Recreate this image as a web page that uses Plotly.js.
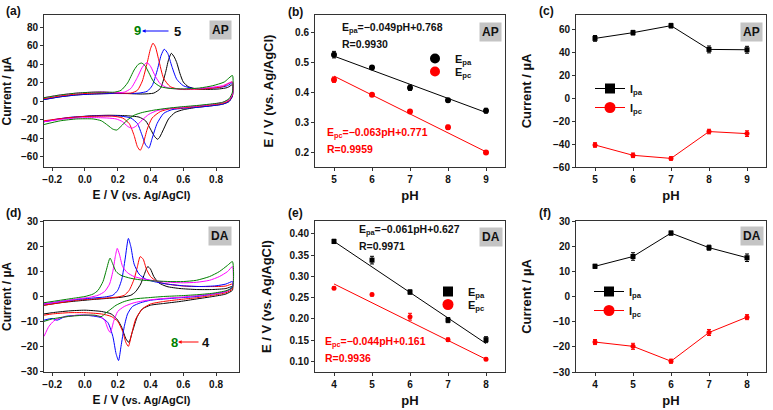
<!DOCTYPE html>
<html>
<head>
<meta charset="utf-8">
<script src="https://cdn.plot.ly/plotly-3.0.1.min.js"></script>
<style>html,body{margin:0;padding:0;background:#fff}</style>
</head>
<body>
<div id="chart" style="width:773px;height:410px"></div>
<script>
// (a) AP cyclic voltammograms, pH 5..9 (anodic sweep then cathodic sweep)
const apE5 = [-0.25,-0.15,-0.05,0.05,0.15,0.25,0.35,0.42,0.46,0.49,0.51,0.527,0.545,0.56,0.58,0.60,0.63,0.68,0.75,0.82,0.87,0.90,
  0.90,0.88,0.84,0.76,0.68,0.60,0.55,0.51,0.48,0.455,0.443,0.425,0.40,0.37,0.33,0.25,0.15,0.05,-0.05,-0.15,-0.25];
const apI5 = [2,5,7,8,8.5,8.5,8,9,14,30,45,52,48,42,30,21,16,13.5,13,13.5,15,18,
  6,0,-3,-5,-6.5,-9,-12,-19,-30,-39,-41,-38,-30,-21,-17,-15.5,-15,-15.5,-17,-19,-22];
const apE6 = [-0.25,-0.15,-0.05,0.05,0.15,0.25,0.33,0.38,0.41,0.44,0.465,0.484,0.505,0.53,0.56,0.60,0.66,0.74,0.82,0.87,0.90,
  0.90,0.88,0.84,0.76,0.68,0.60,0.53,0.48,0.44,0.41,0.39,0.37,0.345,0.32,0.28,0.22,0.12,0.02,-0.08,-0.18,-0.25];
const apI6 = [2,5,7,8,8.5,8.5,9,11,17,33,50,56.5,52,38,24,17,14,14,15,17,20,
  6,0,-3,-5,-6.5,-7.5,-9,-13,-24,-40,-50.5,-47,-35,-24,-18,-16,-15.5,-16,-17,-19.5,-22];
const apE7 = [-0.25,-0.15,-0.05,0.05,0.15,0.22,0.28,0.32,0.35,0.38,0.40,0.415,0.43,0.45,0.48,0.52,0.58,0.66,0.76,0.84,0.90,
  0.90,0.88,0.84,0.76,0.68,0.60,0.52,0.46,0.41,0.38,0.355,0.337,0.32,0.30,0.27,0.23,0.17,0.08,-0.02,-0.12,-0.25];
const apI7 = [3,6,8,9,9.5,9,9,12,22,42,57,63,59,45,25,16,13,13,14,16,21,
  7,1,-2,-4,-5.5,-7,-8,-11,-18,-30,-46,-53,-49,-37,-24,-18,-16,-16,-16.5,-18,-21];
const apE8 = [-0.25,-0.15,-0.05,0.05,0.10,0.18,0.24,0.28,0.32,0.35,0.378,0.40,0.43,0.46,0.50,0.56,0.66,0.76,0.84,0.90,
  0.90,0.88,0.84,0.76,0.68,0.58,0.50,0.44,0.39,0.35,0.31,0.286,0.26,0.23,0.19,0.14,0.05,-0.05,-0.15,-0.25];
const apI8 = [4,7,9,10,10.5,9.5,10,14,26,37,42,38,27,19,15,13.5,13.5,15,17,21,
  8,2,-1,-3.5,-5,-6.5,-8,-10,-14,-20,-27,-29,-27,-22,-19,-18,-17.5,-18,-19.5,-22];
const apE9 = [-0.25,-0.15,-0.05,0.05,0.12,0.18,0.22,0.26,0.30,0.325,0.345,0.365,0.39,0.42,0.46,0.52,0.60,0.70,0.78,0.85,0.90,
  0.90,0.88,0.84,0.76,0.68,0.58,0.50,0.42,0.35,0.30,0.26,0.22,0.194,0.17,0.14,0.10,0.05,-0.05,-0.15,-0.25];
const apI9 = [4,7,9,10,10,10,12,20,34,40,41.5,39,31,21,16,14,13.5,14.5,17,21,28,
  10,3,-1,-3,-4.5,-6,-7.5,-9.5,-12,-15,-20,-27,-31,-30,-26,-21,-19,-19,-21,-25];

// (d) DA cyclic voltammograms, pH 4..8
const daE4 = [-0.25,-0.15,-0.05,0.05,0.15,0.22,0.28,0.31,0.34,0.36,0.383,0.40,0.42,0.45,0.50,0.58,0.68,0.78,0.86,0.90,
  0.90,0.86,0.78,0.68,0.58,0.48,0.40,0.35,0.32,0.29,0.268,0.25,0.225,0.20,0.16,0.10,0.0,-0.1,-0.2,-0.25];
const daI4 = [-3.5,-2.5,-1.8,-1.2,-0.7,-0.3,0.5,2,5,8.5,12,11,8,5.5,4,3.2,2.8,2.8,3.2,4,
  2.5,1,0,-1,-2,-2.8,-3.5,-5,-8,-14,-18.4,-17,-12.5,-9.5,-7,-6,-5.5,-5.8,-6.5,-7];
const daE5 = [-0.25,-0.15,-0.05,0.05,0.15,0.20,0.24,0.27,0.30,0.32,0.337,0.355,0.375,0.40,0.44,0.50,0.60,0.70,0.80,0.86,0.90,
  0.90,0.86,0.78,0.68,0.58,0.48,0.40,0.35,0.31,0.285,0.265,0.25,0.23,0.20,0.16,0.10,0.0,-0.1,-0.2,-0.25];
const daI5 = [-3.5,-2.5,-1.5,-1,-0.5,-0.2,0.5,2.5,7,12,16,15,11,8,6,5,4.2,4,4,4.2,5,
  3,1.5,0.5,-0.5,-1.2,-2,-3,-5,-9,-15,-20,-18.5,-14,-10,-8,-7,-6.5,-6.5,-7,-7.5];
const daE6 = [-0.25,-0.15,-0.05,0.05,0.12,0.17,0.20,0.225,0.245,0.265,0.28,0.30,0.33,0.37,0.42,0.50,0.60,0.70,0.80,0.86,0.90,
  0.90,0.86,0.78,0.68,0.58,0.48,0.40,0.34,0.29,0.26,0.24,0.22,0.205,0.19,0.17,0.14,0.10,0.0,-0.12,-0.17,-0.20,-0.25];
const daI6 = [-3,-2,-1.2,-0.6,-0.2,0.5,2.5,7,15,23.3,20,13,9,7,6,5,4.3,4,4.3,5,6,
  4,2,1,0,-0.5,-1,-1.5,-2.5,-4,-7,-12,-20,-25.7,-23,-16,-10.5,-8.5,-7.5,-8,-9.5,-8.8,-9.5];
const daE7 = [-0.25,-0.15,-0.05,0.03,0.08,0.12,0.15,0.17,0.185,0.197,0.21,0.23,0.26,0.30,0.36,0.44,0.52,0.60,0.68,0.76,0.82,0.87,0.90,
  0.90,0.86,0.78,0.68,0.58,0.48,0.38,0.30,0.24,0.20,0.175,0.155,0.14,0.12,0.09,0.03,-0.05,-0.10,-0.15,-0.19,-0.22,-0.25];
const daI7 = [-3,-2,-1,-0.3,0.5,2,5,10,16,19.3,17,12,9.5,8,7,6.2,5.7,5.5,5.7,6.5,8,10,12,
  3.5,2,1,0.3,-0.3,-0.8,-1.5,-2.5,-4,-6,-10,-14.5,-13,-9.5,-8,-7.5,-7.5,-8,-8.5,-9.8,-12,-16];
const daE8 = [-0.25,-0.15,-0.05,0.0,0.05,0.08,0.11,0.13,0.153,0.17,0.19,0.22,0.28,0.36,0.44,0.52,0.60,0.68,0.76,0.82,0.87,0.90,
  0.90,0.86,0.78,0.68,0.58,0.48,0.38,0.30,0.24,0.19,0.15,0.12,0.104,0.09,0.06,0.0,-0.1,-0.2,-0.25];
const daI8 = [-2.5,-1.5,-0.5,0,1,2.5,6,10.5,15.4,13,10,8.5,7.3,6.5,6.2,6,6,6.5,8,10,12.5,14,
  3.5,2.3,1.3,0.7,0.3,0,-0.5,-1,-2,-3.5,-5.5,-7,-8,-8,-7.5,-7.5,-8,-9,-10];

// (b),(c) AP vs pH
const apPH = [5, 6, 7, 8, 9];
const apEpa = [0.527, 0.484, 0.416, 0.374, 0.339];
const apEpaErr = [0.011, 0.006, 0.009, 0.006, 0.008];
const apEpc = [0.443, 0.392, 0.336, 0.283, 0.199];
const apEpcErr = [0.009, 0.004, 0.004, 0.007, 0.004];
const apFitPH = [5, 9];
const apFitEpa = [0.522, 0.333];
const apFitEpc = [0.455, 0.201];
const apIpa = [52.1, 57.1, 63.2, 42.5, 42.2];
const apIpaErr = [2.5, 2, 2, 3, 3];
const apIpc = [-40.8, -49.8, -52.5, -29.1, -30.9];
const apIpcErr = [2, 2, 1.5, 2, 2.5];

// (e),(f) DA vs pH
const daPH = [4, 5, 6, 7, 8];
const daEpa = [0.382, 0.338, 0.263, 0.197, 0.151];
const daEpaErr = [0.005, 0.009, 0.005, 0.006, 0.007];
const daEpc = [0.272, 0.257, 0.205, 0.151, 0.105];
const daEpcErr = [0.003, 0.003, 0.008, 0.004, 0.003];
const daFitPH = [4, 8];
const daFitEpa = [0.382, 0.142];
const daFitEpc = [0.282, 0.105];
const daIpa = [12.0, 15.9, 25.2, 19.4, 15.4];
const daIpaErr = [0.8, 1.5, 0.8, 1, 1.5];
const daIpc = [-18.1, -19.8, -25.7, -14.3, -8.2];
const daIpcErr = [1, 1.2, 0.8, 1.2, 1];

const FONT = 'Liberation Sans, Arial, sans-serif';
const W = 773, H = 410;
const BLACK = '#000000', RED = '#ff0000', BLUE = '#0000ff', MAGENTA = '#ff00ff', GREEN = '#008000';

function colDom(l, r) { return [l / W, r / W]; }
function rowDom(t, b) { return [1 - b / H, 1 - t / H]; }

function axis(dom, range, anchor, title, extra) {
  return Object.assign({
    domain: dom, range: range, anchor: anchor,
    showline: true, linecolor: '#333', linewidth: 1, mirror: true,
    ticks: 'outside', ticklen: 3, tickwidth: 1, tickcolor: '#333',
    showgrid: false, zeroline: false,
    tickfont: { family: FONT, size: 10, weight: 700, color: '#111' },
    title: { text: title.text, standoff: title.standoff,
      font: { family: FONT, size: title.size || 13, weight: 700, color: '#111' } }
  }, extra || {});
}

function cv(E, I, color, n) {
  return { x: E, y: I, xaxis: 'x' + n, yaxis: 'y' + n, mode: 'lines',
    line: { color: color, width: 1, shape: 'spline', smoothing: 0.6 },
    showlegend: false, hoverinfo: 'skip' };
}

function pts(x, y, err, color, symbol, size, n, withLine) {
  return { x: x, y: y, xaxis: 'x' + n, yaxis: 'y' + n, showlegend: false,
    mode: withLine ? 'lines+markers' : 'markers',
    line: { color: color, width: 1 },
    marker: { color: color, symbol: symbol, size: size },
    error_y: { type: 'data', array: err, color: color, thickness: 1, width: 2 } };
}

// legend-only entries (no points), so legend symbols can be larger than the data markers
function key(name, color, symbol, size, n, leg, withLine) {
  return { x: [null], y: [null], xaxis: 'x' + n, yaxis: 'y' + n, name: name, legend: leg,
    mode: withLine ? 'lines+markers' : 'markers',
    line: { color: color, width: 1 }, marker: { color: color, symbol: symbol, size: size } };
}

function fit(x, y, color, n) {
  return { x: x, y: y, xaxis: 'x' + n, yaxis: 'y' + n, mode: 'lines',
    line: { color: color, width: 1 }, showlegend: false, hoverinfo: 'skip' };
}

const data = [
  cv(apE5, apI5, BLACK, ''), cv(apE6, apI6, BLUE, ''), cv(apE7, apI7, RED, ''),
  cv(apE8, apI8, MAGENTA, ''), cv(apE9, apI9, GREEN, ''),
  fit(apFitPH, apFitEpa, BLACK, 2), fit(apFitPH, apFitEpc, RED, 2),
  pts(apPH, apEpa, apEpaErr, BLACK, 'circle', 6, 2, false),
  pts(apPH, apEpc, apEpcErr, RED, 'circle', 6, 2, false),
  key('E<sub>pa</sub>', BLACK, 'circle', 10, 2, 'legend', false),
  key('E<sub>pc</sub>', RED, 'circle', 10, 2, 'legend5', false),
  pts(apPH, apIpa, apIpaErr, BLACK, 'square', 5, 3, true),
  pts(apPH, apIpc, apIpcErr, RED, 'circle', 5, 3, true),
  key('I<sub>pa</sub>', BLACK, 'square', 10, 3, 'legend2', true),
  key('I<sub>pc</sub>', RED, 'circle', 11, 3, 'legend2', true),
  cv(daE4, daI4, BLACK, 4), cv(daE5, daI5, RED, 4), cv(daE6, daI6, BLUE, 4),
  cv(daE7, daI7, MAGENTA, 4), cv(daE8, daI8, GREEN, 4),
  fit(daFitPH, daFitEpa, BLACK, 5), fit(daFitPH, daFitEpc, RED, 5),
  pts(daPH, daEpa, daEpaErr, BLACK, 'square', 5, 5, false),
  pts(daPH, daEpc, daEpcErr, RED, 'circle', 5, 5, false),
  key('E<sub>pa</sub>', BLACK, 'square', 10, 5, 'legend3', false),
  key('E<sub>pc</sub>', RED, 'circle', 11, 5, 'legend6', false),
  pts(daPH, daIpa, daIpaErr, BLACK, 'square', 5, 6, true),
  pts(daPH, daIpc, daIpcErr, RED, 'circle', 5, 6, true),
  key('I<sub>pa</sub>', BLACK, 'square', 10, 6, 'legend4', true),
  key('I<sub>pc</sub>', RED, 'circle', 11, 6, 'legend4', true)
];

const evTitle = 'E / V <span style="font-size:11px">(vs. Ag/AgCl)</span>';
const top1 = rowDom(15, 167), top2 = rowDom(221, 372);
const c1 = colDom(44, 239), c2 = colDom(315, 505), c3 = colDom(576, 766);

function legendAt(x, y) {
  return { x: x / W, y: 1 - y / H, xanchor: 'left', yanchor: 'top', bgcolor: 'rgba(0,0,0,0)',
    itemsizing: 'trace', tracegroupgap: 0, itemwidth: 30,
    font: { family: FONT, size: 11, weight: 700, color: '#111' } };
}

function note(text, x, y, opts) {
  return Object.assign({ text: text, xref: 'paper', yref: 'paper', x: x / W, y: 1 - y / H,
    showarrow: false, xanchor: 'center', yanchor: 'middle',
    font: { family: FONT, size: 12, weight: 700, color: '#111' } }, opts || {});
}
function box(text, x, y) {
  return note(text, x, y, { bgcolor: '#c4c4c4', borderpad: 2,
    font: { family: FONT, size: 12, weight: 700, color: '#111' } });
}
function eq(text, x, y, color) {
  return note(text, x, y, { xanchor: 'left', font: { family: FONT, size: 10.5, weight: 700, color: color } });
}

const layout = {
  width: W, height: H, margin: { l: 0, r: 0, t: 0, b: 0 },
  paper_bgcolor: '#fff', plot_bgcolor: '#fff', showlegend: true,
  xaxis: axis(c1, [-0.25, 0.94], 'y', { text: evTitle, size: 12, standoff: 6 }, { dtick: 0.2, tickformat: '.1f' }),
  yaxis: axis(top1, [-71, 93.5], 'x', { text: 'Current / µA', size: 12, standoff: 12 }, { dtick: 20 }),
  xaxis2: axis(c2, [4.5, 9.5], 'y2', { text: 'pH', standoff: 6 }, { dtick: 1 }),
  yaxis2: axis(top1, [0.15, 0.66], 'x2', { text: 'E / V (vs. Ag/AgCl)', standoff: 18 }, { dtick: 0.1, tickformat: '.1f' }),
  xaxis3: axis(c3, [4.5, 9.5], 'y3', { text: 'pH', standoff: 6 }, { dtick: 1 }),
  yaxis3: axis(top1, [-60, 72.5], 'x3', { text: 'Current / µA', standoff: 18 }, { dtick: 20 }),
  xaxis4: axis(c1, [-0.25, 0.94], 'y4', { text: evTitle, size: 12, standoff: 6 }, { dtick: 0.2, tickformat: '.1f' }),
  yaxis4: axis(top2, [-30.3, 30.3], 'x4', { text: 'Current / µA', size: 12, standoff: 12 }, { dtick: 10 }),
  xaxis5: axis(c2, [3.5, 8.5], 'y5', { text: 'pH', standoff: 6 }, { dtick: 1 }),
  yaxis5: axis(top2, [0.075, 0.43], 'x5', { text: 'E / V (vs. Ag/AgCl)', standoff: 14 }, { dtick: 0.05, tickformat: '.2f' }),
  xaxis6: axis(c3, [3.5, 8.5], 'y6', { text: 'pH', standoff: 6 }, { dtick: 1 }),
  yaxis6: axis(top2, [-30, 30], 'x6', { text: 'Current / µA', standoff: 18 }, { dtick: 10 }),
  legend: legendAt(415, 44),
  legend5: legendAt(415, 57),
  legend2: legendAt(590, 74),
  legend3: legendAt(428, 277),
  legend6: legendAt(428, 290),
  legend4: legendAt(589, 277),
  annotations: [
    note('(a)', 14, 11), note('(b)', 295, 12), note('(c)', 546, 11),
    note('(d)', 14, 213), note('(e)', 295, 213), note('(f)', 545, 213),
    box('AP', 220, 30), box('AP', 490, 32), box('AP', 751, 32),
    box('DA', 220, 236), box('DA', 491, 237), box('DA', 752, 236),
    note('9', 137, 31, { font: { family: FONT, size: 13, weight: 700, color: GREEN } }),
    note('5', 177, 32, { font: { family: FONT, size: 13, weight: 700, color: '#111' } }),
    note('', 142, 31, { showarrow: true, ax: 28, ay: 0, arrowcolor: BLUE, arrowhead: 2, arrowsize: 0.6, arrowwidth: 1.2 }),
    note('8', 174, 342, { font: { family: FONT, size: 13, weight: 700, color: GREEN } }),
    note('4', 206, 342, { font: { family: FONT, size: 13, weight: 700, color: '#111' } }),
    note('', 178, 342, { showarrow: true, ax: 22, ay: 0, arrowcolor: RED, arrowhead: 2, arrowsize: 0.6, arrowwidth: 1.2 }),
    eq('E<sub>pa</sub>=−0.049pH+0.768', 340, 28, '#111'),
    eq('R=0.9930', 340, 44, '#111'),
    eq('E<sub>pc</sub>=−0.063pH+0.771', 325, 133, RED),
    eq('R=0.9959', 325, 149, RED),
    eq('E<sub>pa</sub>=−0.061pH+0.627', 357, 230, '#111'),
    eq('R=0.9971', 357, 246, '#111'),
    eq('E<sub>pc</sub>=−0.044pH+0.161', 323, 342, RED),
    eq('R=0.9936', 323, 358, RED)
  ]
};

Plotly.newPlot('chart', data, layout, { staticPlot: true });
</script>
</body>
</html>
